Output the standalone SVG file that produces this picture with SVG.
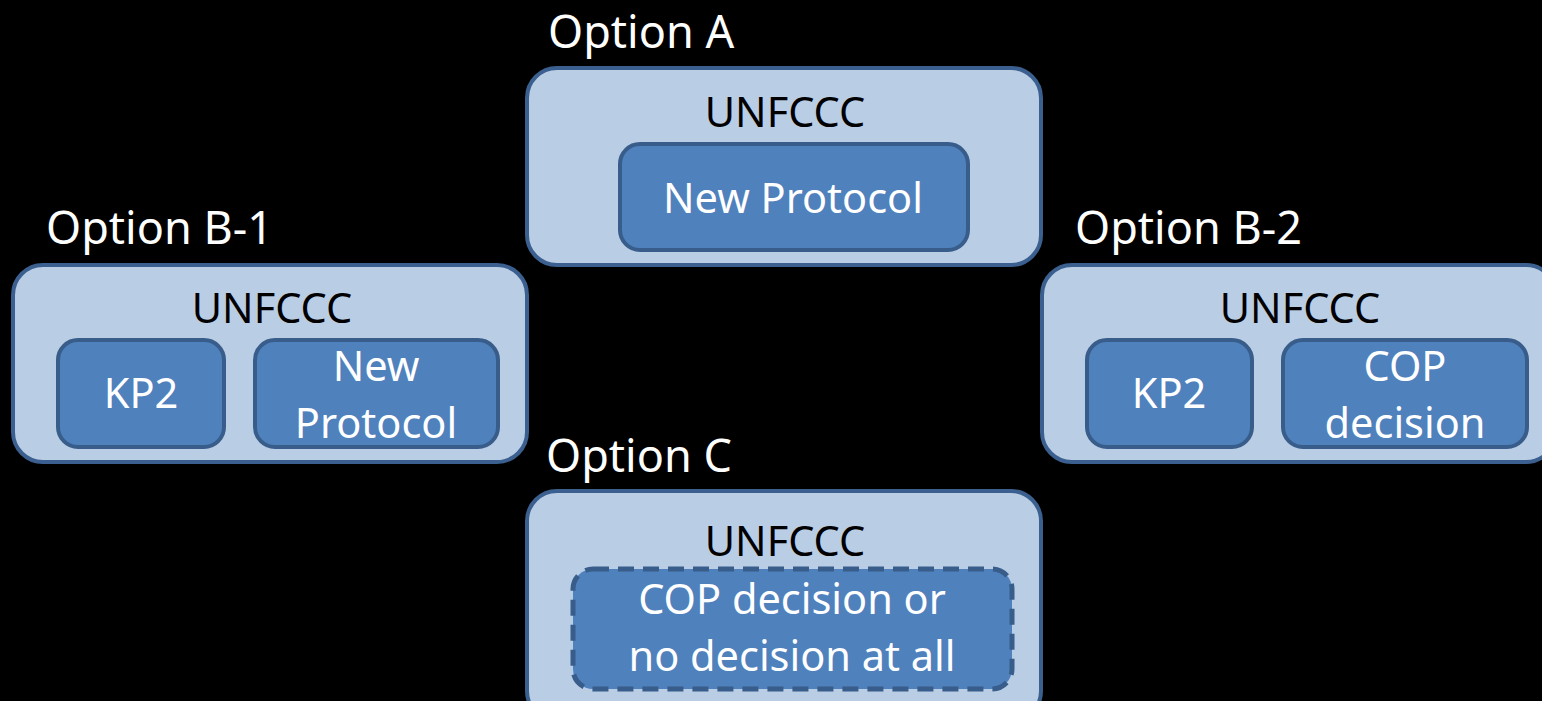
<svg xmlns="http://www.w3.org/2000/svg" width="1542" height="701" viewBox="0 0 1542 701">
<style>
.bg{fill:#000}
.outer{fill:#B9CDE5;stroke:#3B6090;stroke-width:4}
.inner{fill:#4F81BD;stroke:#385D8A;stroke-width:4}
.dash{stroke-width:5;stroke-dasharray:16 9}
.lbl{font-family:"Noto Sans","Open Sans",sans-serif;font-size:45px;fill:#fff}
.un{font-family:"Noto Sans","Open Sans",sans-serif;font-size:41.5px;fill:#000;text-anchor:middle}
.in{font-family:"Noto Sans","Open Sans",sans-serif;font-size:41.5px;fill:#fff;text-anchor:middle}
</style>
<rect class="bg" x="0" y="0" width="1542" height="701"/>
<g id="optionA">
<text class="lbl" x="548" y="48">Option A</text>
<rect class="outer" x="527" y="68" width="514" height="197" rx="30"/>
<text class="un" x="785" y="127">UNFCCC</text>
<rect class="inner" x="620" y="144" width="348" height="106" rx="20"/>
<text class="in" x="793" y="213">New Protocol</text>
</g>
<g id="optionB1">
<text class="lbl" x="46" y="244">Option B-1</text>
<rect class="outer" x="13" y="265" width="514" height="197" rx="30"/>
<text class="un" x="272" y="323">UNFCCC</text>
<rect class="inner" x="58" y="340" width="166" height="107" rx="20"/>
<text class="in" x="141" y="408">KP2</text>
<rect class="inner" x="255" y="340" width="243" height="107" rx="20"/>
<text class="in" x="376" y="381">New</text>
<text class="in" x="376" y="438">Protocol</text>
</g>
<g id="optionB2">
<text class="lbl" x="1075" y="244">Option B-2</text>
<rect class="outer" x="1042" y="265" width="514" height="197" rx="30"/>
<text class="un" x="1300" y="323">UNFCCC</text>
<rect class="inner" x="1087" y="340" width="165" height="107" rx="20"/>
<text class="in" x="1169" y="408">KP2</text>
<rect class="inner" x="1283" y="340" width="244" height="107" rx="20"/>
<text class="in" x="1405" y="381">COP</text>
<text class="in" x="1405" y="438">decision</text>
</g>
<g id="optionC">
<text class="lbl" x="546" y="472">Option C</text>
<rect class="outer" x="527" y="491" width="514" height="230" rx="30"/>
<text class="un" x="785" y="556">UNFCCC</text>
<rect class="inner dash" x="573" y="569" width="439" height="120" rx="20"/>
<text class="in" x="792" y="614">COP decision or</text>
<text class="in" x="792" y="671">no decision at all</text>
</g>
<g id="connectors"></g>
</svg>
